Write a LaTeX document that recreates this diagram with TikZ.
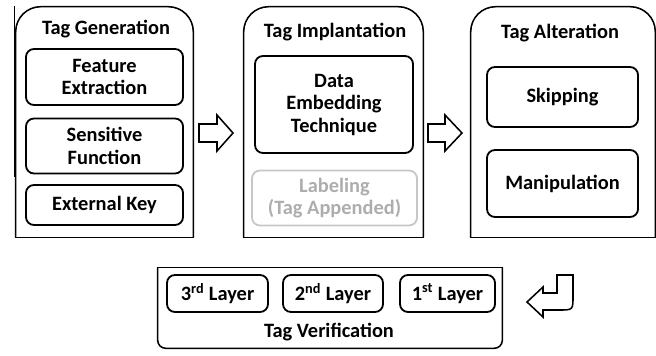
\documentclass[tikz,border=0pt]{standalone}
\usepackage{fontspec}
\setmainfont{Carlito}
\tikzset{
  panel/.style={inner sep=0pt,minimum height=5.75cm},
  box/.style={draw,line width=1.3pt,rounded corners=0.2cm,align=center,inner sep=2pt},
  faded/.style={box,draw=black!22,text=black!32},
  hollow/.style={draw,line width=1.1pt,fill=white,line join=miter}
}
% outline of a stage: big round top corners, square bottom
\newcommand\stagebox[1]{%
  \draw[line width=1.1pt,rounded corners=0.625cm] (#1.south west) -- (#1.north west) -- (#1.north east) -- (#1.south east);
  \draw[line width=1.1pt,line cap=rect] (#1.south west) -- (#1.south east);}
\begin{document}
\begin{tikzpicture}[x=0.025cm,y=-0.025cm,line join=round,font=\fontsize{14.5}{16}\selectfont\bfseries]
\useasboundingbox (0,0) rectangle (656,355);

% the three stages on top
\node[panel,minimum width=4.425cm] (gen) at (104.5,122) {};
\node[panel,minimum width=4.475cm] (imp) at (333.5,122) {};
\node[panel,minimum width=4.6cm]   (alt) at (563,122) {};
\stagebox{gen}\stagebox{imp}\stagebox{alt}
\draw[line width=0.7pt] (14,6) -- (14,177);

\node (gentitle) at (106,29) {Tag Generation};
\node[box,minimum width=3.925cm,minimum height=1.4cm]   (feat)  at (104.5,77)  {Feature\\Extraction};
\node[box,minimum width=3.925cm,minimum height=1.375cm] (sens)  at (104.5,146) {Sensitive\\Function};
\node[box,minimum width=3.925cm,minimum height=1cm]     (key)   at (104.5,205) {External Key};

\node (imptitle) at (335,32) {Tag Implantation};
\node[box,minimum width=3.95cm,minimum height=2.425cm]   (embed) at (334,104.5) {Data\\Embedding\\Technique};
\node[faded,minimum width=4.125cm,minimum height=1.375cm] (label) at (334.5,198) {Labeling\\(Tag Appended)};

\node (alttitle) at (560,33) {Tag Alteration};
\node[box,minimum width=3.775cm,minimum height=1.5cm]   (skip)  at (562.5,97)  {Skipping};
\node[box,minimum width=3.775cm,minimum height=1.675cm] (manip) at (562.5,183.5) {Manipulation};

% verification stage at the bottom
\node[inner sep=0pt,minimum width=8.6cm,minimum height=2cm] (ver) at (330,308) {};
\draw[line width=1.1pt,rounded corners=0.2cm] (ver.north west) -- (ver.south west) -- (ver.south east) -- (ver.north east);
\draw[line width=1.1pt,line cap=rect] (ver.north west) -- (ver.north east);
\node[box,minimum width=2.525cm,minimum height=0.925cm] (lay3) at (217.5,293.5) {3\textsuperscript{rd} Layer};
\node[box,minimum width=2.5cm,minimum height=0.925cm]   (lay2) at (333,293.5)   {2\textsuperscript{nd} Layer};
\node[box,minimum width=2.375cm,minimum height=0.925cm] (lay1) at (447.5,293.5) {1\textsuperscript{st} Layer};
\node (vertitle) at (329,332) {Tag Verification};

% block arrows between the stages
\draw[hollow] (199,124) -- (217,124) -- (217,115) -- (233,133) -- (217,151) -- (217,142) -- (199,142) -- cycle;
\draw[hollow] (428,124) -- (445,124) -- (445,115) -- (462,133) -- (445,151) -- (445,142) -- (428,142) -- cycle;
\draw[hollow] (557,275) -- (573,275) -- (573,296) .. controls (573,310) .. (559,310) -- (543,310) -- (543,317)
  -- (527,302) -- (543,287) -- (543,293) -- (557,293) -- cycle;
\end{tikzpicture}
\end{document}
